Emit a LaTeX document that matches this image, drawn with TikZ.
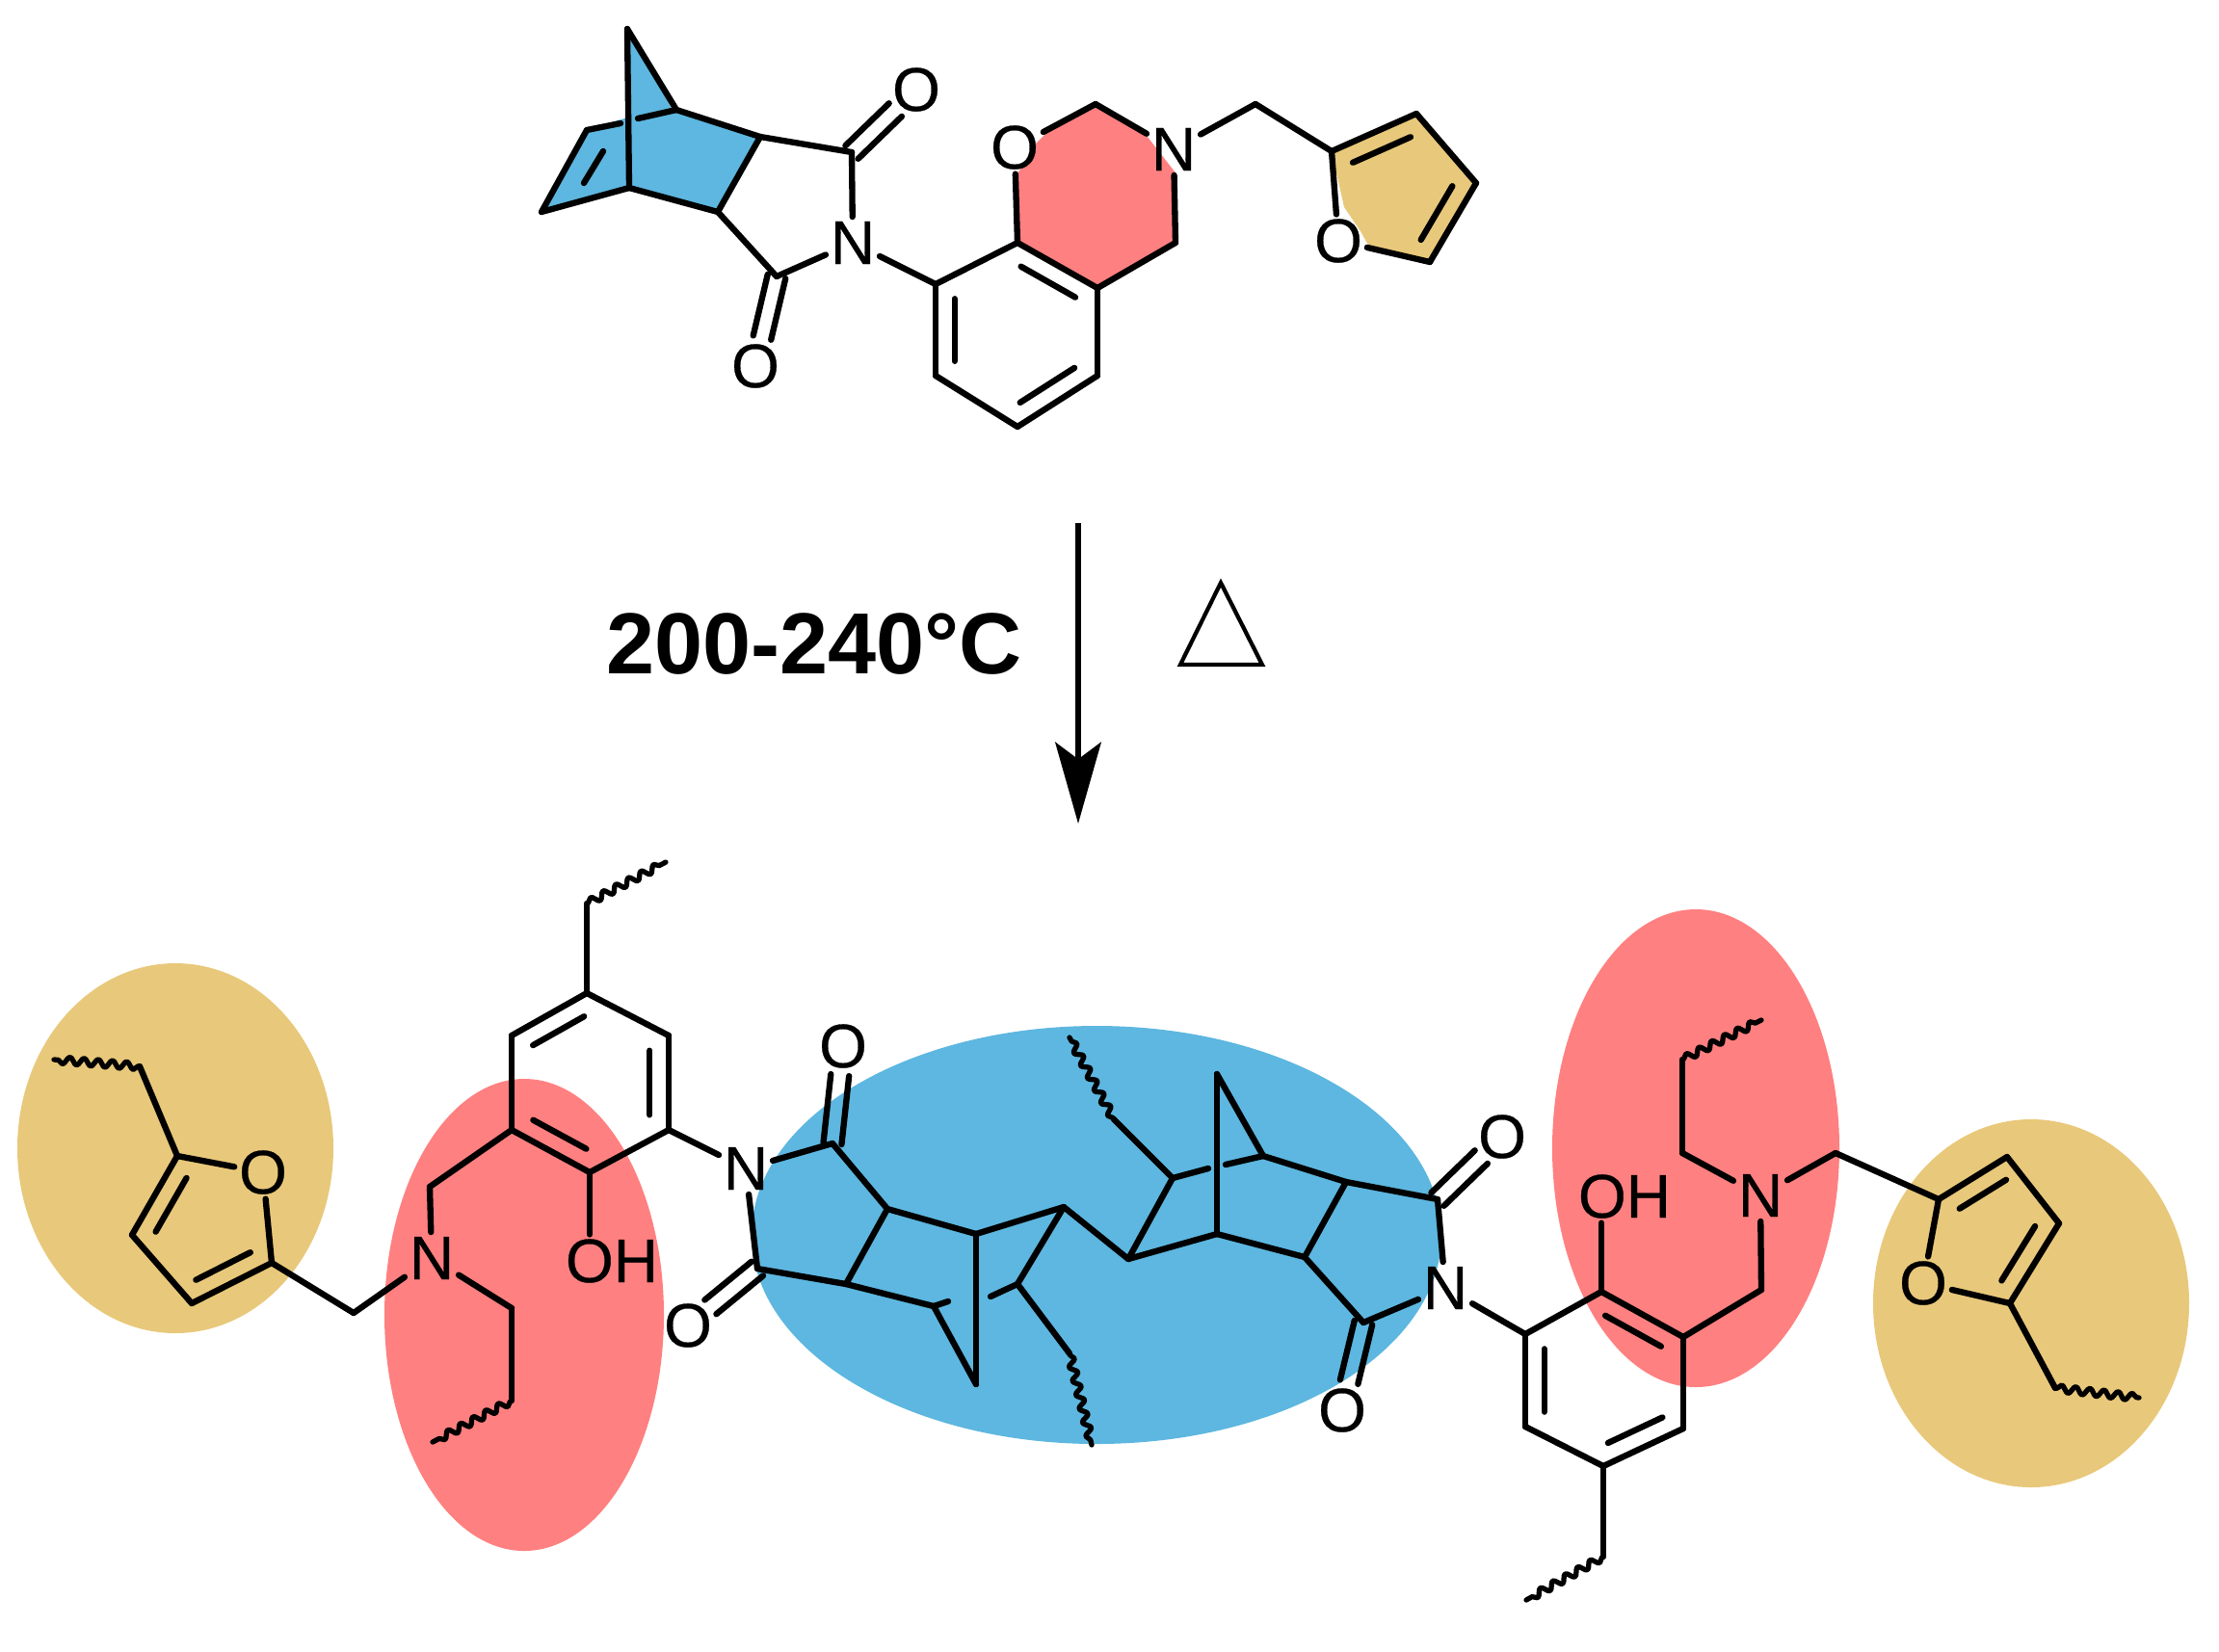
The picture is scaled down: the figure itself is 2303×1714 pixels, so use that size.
\documentclass[tikz,border=0pt]{standalone}
\usepackage{fontspec}
\setmainfont{Liberation Sans}
\newfontfamily\atomfont[FakeBold=0.45]{Liberation Sans}
\usetikzlibrary{calc,arrows.meta,decorations.pathmorphing}
\definecolor{hlblue}{HTML}{5DB7E0}
\definecolor{hlpink}{HTML}{FF8080}
\definecolor{hlgold}{HTML}{E8C87A}
\tikzset{
  bond/.style={line width=1.8pt,line cap=round,line join=round,black},
  wavy/.style={bond,line width=1.5pt,decorate,decoration={snake,segment length=4.2pt,amplitude=1.1pt,pre length=0.5pt,post length=0.5pt}},
  atom/.style={font=\atomfont\fontsize{18.2}{18}\selectfont,inner sep=1.2pt,text=black},
}
% inner line of a double bond: #1,#2 = ends, #3 = side angle (90 or -90)
\newcommand{\innerbond}[3]{\draw[bond] ($(#1)!.16!(#2)!5.6pt!#3:(#2)$) -- ($(#2)!.16!(#1)!5.6pt!-#3:(#1)$);}
% C=O: two parallel lines from atom #1 to the label node #2
\newcommand{\cobond}[2]{%
  \draw[bond,shorten >=8.6pt] ($(#1)!2.7pt!90:(#2)$) -- ($(#2)!2.7pt!-90:(#1)$);
  \draw[bond,shorten >=8.6pt] ($(#1)!2.7pt!-90:(#2)$) -- ($(#2)!2.7pt!90:(#1)$);}
\begin{document}
\begin{tikzpicture}[x=0.01cm,y=-0.01cm]
\useasboundingbox (0,0) rectangle (2303,1714);
% highlight ellipses
\fill[hlgold] (182,1192) ellipse [x radius=164,y radius=192];
\fill[hlpink] (544,1365) ellipse [x radius=145,y radius=245];
\fill[hlblue] (1138,1282) ellipse [x radius=358,y radius=217];
\fill[hlpink] (1760,1192) ellipse [x radius=149,y radius=248];
\fill[hlgold] (2108,1353) ellipse [x radius=164,y radius=191];
% highlights of the monomer
\fill[hlblue] (651,28) -- (697,113) -- (789,142) -- (745,220) -- (651,195) -- (562,220) -- (609,135) -- (651,122) -- cycle;
\fill[hlpink] (1056,252) -- (1056,180) -- (1063,170) -- (1074,150) -- (1084,140) -- (1137,108) -- (1187,137) -- (1222,182) -- (1220,252) -- (1139,297) -- cycle;
\fill[hlgold] (1382,157) -- (1470,118) -- (1532,190) -- (1484,272) -- (1422,258) -- (1412,240) -- (1395,215) -- cycle;
\fill[white] (1053,153) ellipse [x radius=16,y radius=20];
\fill[white] (1389,250) ellipse [x radius=16,y radius=20];
% named vertices
\foreach \n/\x/\y in {
  tA/651/30,tB/702/114,tC/789/142,tD/884/158,tE/745/220,tF/653/195,tG/562/220,tH/609/135,tgL/644/128,tgR/662/123,
  tgi1/626/157,tgi2/606/190,
  tK/806/287,ta1/971/295,ta2/1056/252,ta3/1139/299,ta4/1139/390,ta5/1056/443,ta6/971/390,
  tCH/1137/108,tC4/1220/252,tM/1303/108,tf2/1382/157,tf3/1470/118,tf4/1532/190,tf5/1484/272,
  lw0/145/1107,lwE/56/1100,lf2/184/1200,lf3/137/1282,lf4/199/1353,lf5/282/1311,lM/367/1363,lp1/531/1358,lp2/531/1454,lpE/449/1497,
  lq/446/1232,lr1/531/1173,lr2/612/1217,lr3/694/1173,lr4/694/1075,lr5/609/1031,lr6/531/1075,lu/609/938,luE/691/895,
  mC1/864/1187,ma/921/1255,mb/1013/1281,mc/1104/1253,md/1056/1333,me/969/1356,mf/878/1333,mC2/786/1317,mbt/1013/1437,
  mg/1171/1307,mh/1263/1281,mi/1354/1305,mj/1217/1223,mk/1311/1200,ml/1397/1227,mm/1492/1245,mn/1415/1373,mtp/1263/1115,
  mgL/984/1351,mgR/1028/1346,mjL/1254/1213,mkR/1272/1209,
  mw1/1156/1162,mw1E/1110/1077,mw2/1110/1405,mw2E/1133/1500,
  rR1/1583/1385,rR2/1662/1341,rR3/1747/1388,rR4/1747/1483,rR5/1664/1522,rR6/1583/1481,
  rd/1664/1616,rdE/1584/1661,rq/1828/1339,rs/1746/1197,rs2/1746/1100,rs2E/1828/1059,rM/1905/1197,
  rfa/2012/1245,rfb/2083/1201,rfc/2137/1270,rfd/2086/1353,rw/2133/1441,rwE/2220/1451%
  } \coordinate (\n) at (\x,\y);
% atom labels
\node[atom] (tO1) at (951,93) {O};
\node[atom] (tO2) at (784,380) {O};
\node[atom] (tN) at (885,252) {N};
\node[atom] (tO3) at (1053,153) {O};
\node[atom] (tN2) at (1218,155) {N};
\node[atom] (tO4) at (1389,250) {O};
\node[atom] (lO) at (273,1217) {O};
\node[atom] (lN) at (448,1306) {N};
\node[atom] (lOH) at (635,1309) {OH};
\node[atom] (mN1) at (774,1213) {N};
\node[atom] (mO1) at (875,1086) {O};
\node[atom] (mO2) at (714,1376) {O};
\node[atom] (mN2) at (1500,1337) {N};
\node[atom] (mO3) at (1559,1180) {O};
\node[atom] (mO4) at (1393,1464) {O};
\node[atom] (rOH) at (1686,1242) {OH};
\node[atom] (rN) at (1827,1241) {N};
\node[atom] (rO) at (1996,1332) {O};
% reaction label, arrow, heat symbol
\node[font=\fontsize{25.6}{26}\selectfont\bfseries,inner sep=0pt,text=black] (cond) at (845,668) {200-240°C};
\coordinate (arrS) at (1119,543);
\coordinate (arrE) at (1119,855);
\draw[line width=1.8pt,-{Stealth[length=24pt,width=13.5pt,inset=5pt]}] (arrS) -- (arrE);
\coordinate (heatT) at (1267,605);
\coordinate (heatL) at (1225,690);
\coordinate (heatR) at (1310,690);
\draw[line width=1.2pt,line join=miter] (heatT) -- (heatL) -- (heatR) -- cycle;
% bonds: monomer
\foreach \a/\b in {tA/tB,tA/tF,tB/tgR,tgL/tH,tB/tC,tC/tD,tC/tE,tE/tF,tF/tG,tG/tH,tD/tN,tN/tK,tE/tK,tN/ta1,
  ta1/ta2,ta2/ta3,ta3/ta4,ta4/ta5,ta5/ta6,ta6/ta1,ta2/tO3,tO3/tCH,tCH/tN2,tN2/tC4,tC4/ta3,tN2/tM,tM/tf2,tf2/tf3,tf3/tf4,tf4/tf5,tf5/tO4,tO4/tf2,tgi1/tgi2}
  \draw[bond] (\a) -- (\b);
\cobond{tD}{tO1}
\cobond{tK}{tO2}
\innerbond{ta2}{ta3}{-90}
\innerbond{ta1}{ta6}{90}
\innerbond{ta4}{ta5}{-90}
\innerbond{tf2}{tf3}{-90}
\innerbond{tf4}{tf5}{-90}
% bonds: left arm
\foreach \a/\b in {lw0/lf2,lf2/lO,lf2/lf3,lf3/lf4,lf4/lf5,lf5/lO,lf5/lM,lM/lN,lN/lp1,lp1/lp2,lN/lq,lq/lr1,
  lr1/lr2,lr2/lr3,lr3/lr4,lr4/lr5,lr5/lr6,lr6/lr1,lr5/lu,lr3/mN1}
  \draw[bond] (\a) -- (\b);
\draw[bond] (lr2) -- (lr2 |- lOH.north);
\draw[wavy] (lw0) -- (lwE);
\draw[wavy] (lp2) -- (lpE);
\draw[wavy] (lu) -- (luE);
\innerbond{lf2}{lf3}{90}
\innerbond{lf4}{lf5}{90}
\innerbond{lr1}{lr2}{90}
\innerbond{lr3}{lr4}{90}
\innerbond{lr5}{lr6}{90}
% bonds: central bicyclic part
\foreach \a/\b in {mN1/mC1,mN1/mC2,mC1/ma,ma/mb,mb/mc,mc/md,md/mgR,mgL/me,me/mf,mf/ma,mf/mC2,mb/mbt,mbt/me,
  mc/mg,mg/mh,mh/mi,mg/mj,mj/mjL,mkR/mk,mk/ml,ml/mi,ml/mm,mm/mN2,mN2/mn,mi/mn,mh/mtp,mtp/mk,mj/mw1,md/mw2}
  \draw[bond] (\a) -- (\b);
\cobond{mC1}{mO1}
\cobond{mC2}{mO2}
\cobond{mm}{mO3}
\cobond{mn}{mO4}
\draw[wavy] (mw1) -- (mw1E);
\draw[wavy] (mw2) -- (mw2E);
% bonds: right arm
\foreach \a/\b in {mN2/rR1,rR1/rR2,rR2/rR3,rR3/rR4,rR4/rR5,rR5/rR6,rR6/rR1,rR5/rd,rR3/rq,rq/rN,rN/rs,rs/rs2,rN/rM,rM/rfa,
  rfa/rfb,rfb/rfc,rfc/rfd,rfd/rO,rO/rfa,rfd/rw}
  \draw[bond] (\a) -- (\b);
\draw[bond] (rR2) -- (rR2 |- rOH.south);
\draw[wavy] (rd) -- (rdE);
\draw[wavy] (rs2) -- (rs2E);
\draw[wavy] (rw) -- (rwE);
\innerbond{rR2}{rR3}{-90}
\innerbond{rR1}{rR6}{90}
\innerbond{rR4}{rR5}{-90}
\innerbond{rfa}{rfb}{-90}
\innerbond{rfc}{rfd}{-90}
\end{tikzpicture}
\end{document}
